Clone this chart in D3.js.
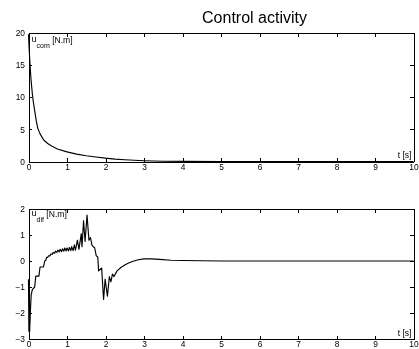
<!DOCTYPE html>
<html>
<head>
<meta charset="utf-8">
<script src="https://cdn.jsdelivr.net/npm/d3@7"></script>
<style>
  html, body { margin: 0; padding: 0; background: #fff; }
  svg { display: block; font-family: "Liberation Sans", Arial, Helvetica, sans-serif; filter: grayscale(1); }
</style>
</head>
<body>
<svg id="chart" width="419" height="349"></svg>
<script>
// values
const tCom = [0, 0.01, 0.02, 0.04, 0.06, 0.08, 0.1, 0.125, 0.15, 0.2, 0.24, 0.3, 0.4, 0.5, 0.6, 0.75,
  1.0, 1.25, 1.5, 1.75, 2.0, 2.25, 2.5, 2.75, 3.0, 3.25, 3.5, 4.0, 5.0, 10];
const uCom = [19.8, 18.5, 17.2, 15, 13.2, 11.8, 10.5, 9.3, 8.3, 6.4, 5.2, 4.3, 3.3, 2.8, 2.4, 1.95,
  1.5, 1.15, 0.9, 0.7, 0.52, 0.38, 0.28, 0.19, 0.12, 0.07, 0.04, 0.01, 0, 0];

const tDif = [0, 0.01, 0.03, 0.05, 0.07, 0.1, 0.16, 0.19, 0.27, 0.3, 0.39, 0.42, 0.45, 0.47, 0.5, 0.52,
  0.56, 0.58, 0.62, 0.64, 0.68, 0.7, 0.74, 0.76, 0.8, 0.82, 0.86, 0.88, 0.92, 0.94, 0.98, 1.0,
  1.04, 1.06, 1.1, 1.12, 1.16, 1.19, 1.22, 1.27, 1.31, 1.37, 1.39, 1.43, 1.47, 1.52, 1.57, 1.61,
  1.65, 1.72, 1.76, 1.8, 1.82, 1.9, 1.95, 1.99, 2.05, 2.1, 2.14, 2.18, 2.22, 2.3, 2.4, 2.5,
  2.6, 2.7, 2.85, 3.0, 3.2, 3.4, 3.7, 4.0, 4.5, 5.0, 10];
const uDif = [-0.7, -2.7, -2.7, -1.9, -1.3, -1.1, -1.0, -0.58, -0.58, -0.23, -0.23, 0.0, 0.02, 0.14, 0.14, 0.2,
  0.2, 0.27, 0.26, 0.33, 0.3, 0.38, 0.33, 0.42, 0.35, 0.45, 0.36, 0.47, 0.38, 0.5, 0.39, 0.5,
  0.39, 0.52, 0.4, 0.55, 0.4, 0.62, 0.42, 0.8, 0.45, 1.05, 0.55, 1.55, 0.75, 1.77, 0.8, 0.9,
  0.6, 0.5, 0.2, 0.15, -0.38, -0.27, -1.48, -0.7, -1.35, -0.6, -0.8, -0.5, -0.6, -0.38, -0.25, -0.15,
  -0.08, -0.02, 0.05, 0.08, 0.08, 0.06, 0.03, 0.02, 0.01, 0, 0];

const timeTicks = [0, 1, 2, 3, 4, 5, 6, 7, 8, 9, 10];
const comTicks = [0, 5, 10, 15, 20];
const difTicks = [-3, -2, -1, 0, 1, 2];

const svg = d3.select('#chart');
const x = d3.scaleLinear().domain([0, 10]).range([28.5, 413.5]);
const fmt = d3.format('d');

function drawPanel(top, bottom, yDomain, yTicks, ts, vs, sub, labelDy, padX) {
  const y = d3.scaleLinear().domain(yDomain).range([bottom, top]);
  const g = svg.append('g');
  const tick = 3.5;

  g.append('g').attr('transform', `translate(0,${bottom})`)
    .call(d3.axisBottom(x).tickValues(timeTicks).tickFormat(fmt).tickSize(-tick).tickSizeOuter(0).tickPadding(padX));
  g.append('g').attr('transform', `translate(0,${top})`)
    .call(d3.axisTop(x).tickValues(timeTicks).tickSize(-tick).tickSizeOuter(0).tickFormat(''));
  g.append('g').attr('transform', `translate(${x.range()[0]},0)`)
    .call(d3.axisLeft(y).tickValues(yTicks).tickFormat(fmt).tickSize(-tick).tickSizeOuter(0).tickPadding(3.5));
  g.append('g').attr('transform', `translate(${x.range()[1]},0)`)
    .call(d3.axisRight(y).tickValues(yTicks).tickSize(-tick).tickSizeOuter(0).tickFormat(''));

  g.selectAll('.domain, .tick line').attr('stroke', '#000').attr('stroke-width', 1)
    .attr('shape-rendering', 'crispEdges');
  g.selectAll('.tick text').attr('font-family', null).attr('font-size', 8.4).attr('fill', '#000');

  const line = d3.line().x((d, i) => x(ts[i])).y(d => y(d));
  g.append('path').datum(vs)
    .attr('d', line)
    .attr('fill', 'none')
    .attr('stroke', '#000')
    .attr('stroke-width', 1.15)
    .attr('stroke-linejoin', 'round');

  const lab = g.append('text').attr('x', 31.5).attr('y', top + labelDy).attr('fill', '#000');
  lab.append('tspan').attr('font-size', 9).text('u');
  lab.append('tspan').attr('font-size', 7).attr('dy', 6.5).text(sub);
  lab.append('tspan').attr('font-size', 8.6).attr('dy', -5.5).text(' [N.m]');

  g.append('text')
    .attr('x', 411.5).attr('y', bottom - 3.5)
    .attr('text-anchor', 'end')
    .attr('font-size', 8.6)
    .attr('fill', '#000')
    .text('t [s]');
}

drawPanel(33, 161.5, [0, 20], comTicks, tCom, uCom, 'com', 8.7, 3);
drawPanel(209, 339, [-3, 2], difTicks, tDif, uDif, 'dif', 6.7, 1.8);

svg.append('text')
  .attr('x', 254.5).attr('y', 23)
  .attr('text-anchor', 'middle')
  .attr('font-size', 16)
  .attr('fill', '#000')
  .text('Control activity');
</script>
</body>
</html>
